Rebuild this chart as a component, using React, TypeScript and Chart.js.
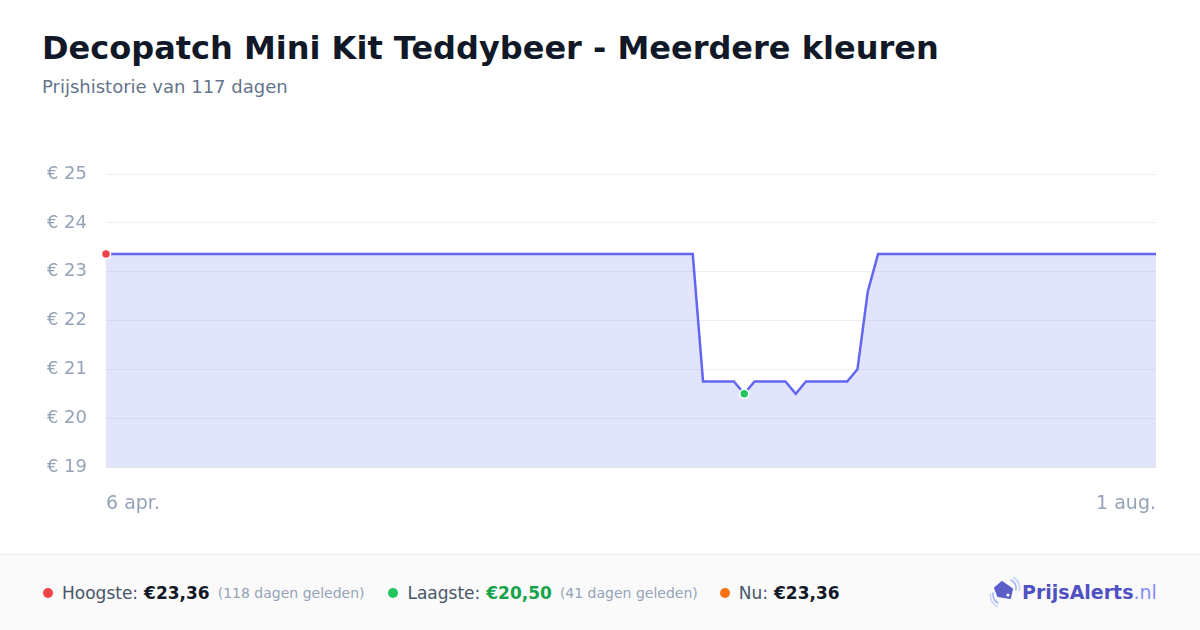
import React, { useEffect, useRef } from "react";
import { Chart, registerables } from "chart.js";

Chart.register(...registerables);

const TITLE = "Decopatch Mini Kit Teddybeer - Meerdere kleuren";
const SUBTITLE = "Prijshistorie van 117 dagen";

const xTickLabels = ["6 apr.", "1 aug."];
const yTicks = [19, 20, 21, 22, 23, 24, 25];

const prices: number[] = [
  23.36, 23.36, 23.36, 23.36, 23.36, 23.36, 23.36, 23.36, 23.36, 23.36,
  23.36, 23.36, 23.36, 23.36, 23.36, 23.36, 23.36, 23.36, 23.36, 23.36,
  23.36, 23.36, 23.36, 23.36, 23.36, 23.36, 23.36, 23.36, 23.36, 23.36,
  23.36, 23.36, 23.36, 23.36, 23.36, 23.36, 23.36, 23.36, 23.36, 23.36,
  23.36, 23.36, 23.36, 23.36, 23.36, 23.36, 23.36, 23.36, 23.36, 23.36,
  23.36, 23.36, 23.36, 23.36, 23.36, 23.36, 23.36, 23.36, 20.75, 20.75,
  20.75, 20.75, 20.5, 20.75, 20.75, 20.75, 20.75, 20.5, 20.75, 20.75,
  20.75, 20.75, 20.75, 21.0, 22.59, 23.36, 23.36, 23.36, 23.36, 23.36,
  23.36, 23.36, 23.36, 23.36, 23.36, 23.36, 23.36, 23.36, 23.36, 23.36,
  23.36, 23.36, 23.36, 23.36, 23.36, 23.36, 23.36, 23.36, 23.36, 23.36,
  23.36, 23.36, 23.36,
];

const highestIndex = 0;
const lowestIndex = 62;

const stats = [
  { label: "Hoogste:", value: "€23,36", note: "(118 dagen geleden)", dot: "#ef4444", valueColor: "#111827" },
  { label: "Laagste:", value: "€20,50", note: "(41 dagen geleden)", dot: "#22c55e", valueColor: "#16a34a" },
  { label: "Nu:", value: "€23,36", note: "", dot: "#f97316", valueColor: "#111827" },
];

const FONT = "'DejaVu Sans', sans-serif";

function zeroPadding(scale: any) {
  scale.paddingTop = 0;
  scale.paddingBottom = 0;
  scale.paddingLeft = 0;
  scale.paddingRight = 0;
}

function PriceChart() {
  const ref = useRef<HTMLCanvasElement | null>(null);
  useEffect(() => {
    if (!ref.current) return;
    const last = prices.length - 1;
    const radii = prices.map((_, i) => (i === highestIndex || i === lowestIndex ? 4.5 : 0));
    const colors = prices.map((_, i) =>
      i === highestIndex ? "#ef4444" : i === lowestIndex ? "#22c55e" : "#6366f1"
    );
    const chart = new Chart(ref.current, {
      type: "line",
      data: {
        datasets: [
          {
            data: prices.map((v, i) => ({ x: i, y: v })),
            borderColor: "#6366f1",
            borderWidth: 2.5,
            backgroundColor: "rgba(99,110,241,0.19)",
            fill: "start",
            tension: 0,
            pointRadius: radii,
            pointHoverRadius: radii,
            pointBackgroundColor: colors,
            pointBorderColor: "#ffffff",
            pointBorderWidth: 1.5,
            clip: false as any,
          },
        ],
      },
      options: {
        animation: false,
        responsive: false,
        devicePixelRatio: 1,
        layout: { autoPadding: false, padding: { top: 24, right: 24, left: 0, bottom: 0 } },
        plugins: { legend: { display: false }, tooltip: { enabled: false } },
        scales: {
          x: {
            type: "linear",
            min: 0,
            max: last,
            grid: { display: false, drawTicks: false },
            border: { display: true, color: "#e2e4e9", width: 1 },
            afterBuildTicks: (scale: any) => {
              scale.ticks = [{ value: 0 }, { value: last }];
            },
            afterFit: (scale: any) => {
              scale.height = 63;
              zeroPadding(scale);
            },
            ticks: {
              align: "inner",
              maxRotation: 0,
              padding: 26,
              color: "#94a3b8",
              font: { family: FONT, size: 19 },
              callback: (v: any) => (v === 0 ? xTickLabels[0] : xTickLabels[1]),
            },
          },
          y: {
            min: yTicks[0],
            max: yTicks[yTicks.length - 1],
            grid: { color: "#efeff2", drawTicks: false, lineWidth: 1 },
            border: { display: false },
            afterBuildTicks: (scale: any) => {
              scale.ticks = yTicks.map((v) => ({ value: v }));
            },
            afterFit: (scale: any) => {
              scale.width = 76;
              zeroPadding(scale);
            },
            ticks: {
              padding: 19,
              color: "#94a3b8",
              font: { family: FONT, size: 18 },
              callback: (v: any) => "€ " + v,
            },
          },
        },
      },
    });
    return () => chart.destroy();
  }, []);
  return <canvas ref={ref} width={1150} height={380} style={{ position: "absolute", left: 30, top: 150 }} />;
}

function Logo() {
  return (
    <div style={{ position: "absolute", left: 989, top: 576, height: 32, display: "flex", alignItems: "center" }}>
      <svg width="32" height="32" viewBox="0 0 32 32" style={{ marginRight: 1 }}>
        <path d="M22 4 A 10 10 0 0 1 27 14" stroke="#a5b4fc" strokeWidth="1.6" fill="none" strokeLinecap="round" />
        <path d="M24.5 1.5 A 13 13 0 0 1 30.5 14" stroke="#c7d2fe" strokeWidth="1.6" fill="none" strokeLinecap="round" />
        <path d="M4 17 A 10 10 0 0 0 9 27" stroke="#a5b4fc" strokeWidth="1.6" fill="none" strokeLinecap="round" />
        <path d="M1.5 18 A 13 13 0 0 0 8 30.5" stroke="#c7d2fe" strokeWidth="1.6" fill="none" strokeLinecap="round" />
        <path d="M6 12 L13 6 L23 13 L21 22 L9 20 Z" fill="#5b5fc7" stroke="#5b5fc7" strokeWidth="2" strokeLinejoin="round" />
        <circle cx="19" cy="19" r="1.6" fill="#ffffff" />
      </svg>
      <span style={{ fontFamily: FONT, fontSize: 19, fontWeight: 700, color: "#4f51c2", lineHeight: "32px" }}>PrijsAlerts</span>
      <span style={{ fontFamily: FONT, fontSize: 19, fontWeight: 400, color: "#818cf8", lineHeight: "32px" }}>.nl</span>
    </div>
  );
}

export default function App() {
  return (
    <div style={{ position: "fixed", left: 0, top: 0, width: 1200, height: 630, background: "#ffffff", overflow: "hidden", fontFamily: FONT }}>
      <div style={{ position: "absolute", left: 42, top: 32, fontSize: 32, lineHeight: "32px", fontWeight: 700, color: "#111827", whiteSpace: "nowrap" }}>
        {TITLE}
      </div>
      <div style={{ position: "absolute", left: 42, top: 78, fontSize: 18, lineHeight: "18px", color: "#64748b", whiteSpace: "nowrap" }}>
        {SUBTITLE}
      </div>
      <PriceChart />
      <div style={{ position: "absolute", left: 0, top: 554, width: 1200, height: 76, background: "#fafafa", borderTop: "1px solid #eeeeee" }} />
      <div style={{ position: "absolute", left: 43, top: 582, height: 22, display: "flex", alignItems: "center", whiteSpace: "nowrap" }}>
        {stats.map((s, i) => (
          <div key={i} style={{ display: "flex", alignItems: "center", marginRight: i === 1 ? 22 : 24 }}>
            <span style={{ display: "inline-block", width: 10, height: 10, borderRadius: 5, background: s.dot, marginRight: 9 }} />
            <span style={{ fontSize: 17, color: "#475569" }}>{s.label}</span>
            <span style={{ fontSize: 17, fontWeight: 700, color: s.valueColor, marginLeft: 6 }}>{s.value}</span>
            {s.note ? <span style={{ fontSize: 14, color: "#94a3b8", marginLeft: 8 }}>{s.note}</span> : null}
          </div>
        ))}
      </div>
      <Logo />
    </div>
  );
}
